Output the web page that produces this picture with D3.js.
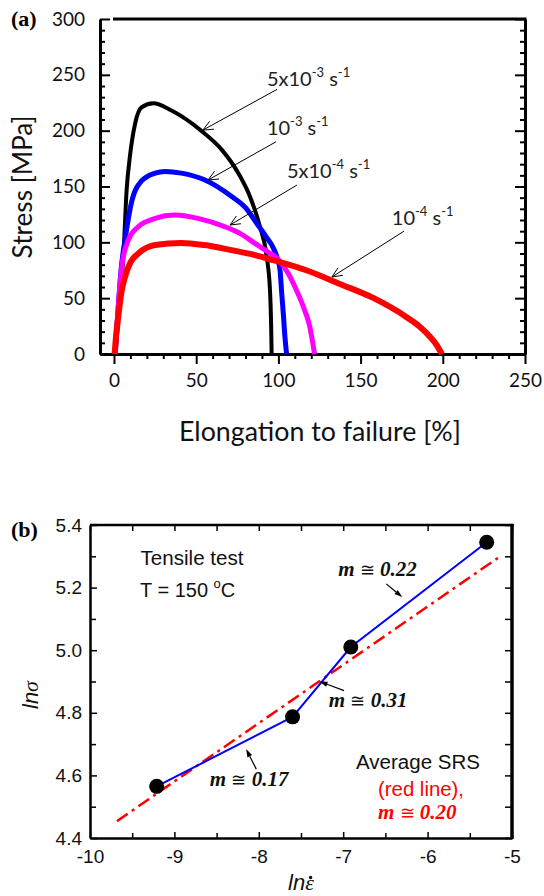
<!DOCTYPE html>
<html><head><meta charset="utf-8">
<script src="https://cdn.jsdelivr.net/npm/d3@7"></script>
<style>body{margin:0;background:#fff} svg{display:block}</style>
</head><body>
<script>
// ---------- Panel (a) data ----------
const elongTicks = [0, 50, 100, 150, 200, 250];
const stressTicks = [0, 50, 100, 150, 200, 250, 300];
const rate5e3 = [[0.6,0],[2,20],[3.5,50],[5.7,87],[7.7,147],[9.7,177],[12.8,206],[16.8,221],[23.9,224.5],[35,218],[53,200],[65.5,183],[76,161],[83,140],[88.8,114],[92.9,87],[94.9,57],[95.6,25],[95.9,0]];
const rate1e3 = [[0.8,0],[2.5,40],[4.5,78],[6.7,102],[10.7,136],[16.8,155],[25,162],[31,163.5],[41,162],[55,156],[71.6,141],[80,131],[86.8,117],[93,104],[96.9,95],[99.5,85],[101,75],[102,55],[103,36],[104,15],[105,0]];
const rate5e4 = [[0.6,0],[1.5,20],[2.6,42],[4.7,78],[8.7,102],[14.8,114],[25,121.5],[37,124.5],[51,121.5],[67.5,114],[76.6,108],[85.8,99],[93,92],[101,83],[106,72],[111,57],[115,43],[119,25],[122,0]];
const rate1e4 = [[0.4,0],[1.2,15],[2.6,33],[4.5,55],[6.7,69],[10,82],[14.8,90],[25,97.6],[41,99.5],[55,97.6],[71.6,93],[85.8,88.6],[96.9,84],[117,75],[137,63],[158,50],[178,33],[186,24.5],[192.2,15.5],[196.3,8],[198.3,3],[199.5,0]];
const seriesA = [
  {name: "5x10-3", data: rate5e3, color: "#000000", width: 4},
  {name: "10-3", data: rate1e3, color: "#0000ff", width: 5},
  {name: "5x10-4", data: rate5e4, color: "#ff00ff", width: 5},
  {name: "10-4", data: rate1e4, color: "#ff0000", width: 6}
];
const rateLabelText = [["5x10", "-3"], ["10", "-3"], ["5x10", "-4"], ["10", "-4"]];
const rateLabelPos = [[93, 240], [93, 196], [105.2, 157.6], [169, 115.5]];
const rateArrowFrom = [[99.2, 237], [98.5, 190], [111.3, 151.3], [176.4, 110]];
const rateArrowTo = [[54.1, 200.5], [57.2, 155.8], [70.6, 115.5], [132.6, 69]];

// ---------- Panel (b) data ----------
const lnRate = [-9.21, -7.60, -6.91, -5.30];
const lnStress = [4.565, 4.787, 5.010, 5.345];
const avgLineX = [-9.68, -5.166];
const avgLineY = [4.454, 5.295];
const lnRateTicks = [-10, -9, -8, -7, -6, -5];
const lnRateMinor = [-9.5, -8.5, -7.5, -6.5, -5.5];
const lnStressTicks = [4.4, 4.6, 4.8, 5.0, 5.2, 5.4];
const lnStressMinor = [4.5, 4.7, 4.9, 5.1, 5.3];
const mLabels = ["0.22", "0.31", "0.17"];
const mLabelPos = [[-7.06, 5.237], [-7.17, 4.82], [-8.58, 4.565]];
const mArrowFrom = [[-6.49, 5.212], [-6.99, 4.871], [-8.03, 4.62]];
const mArrowTo = [[-6.30, 5.170], [-7.28, 4.900], [-8.15, 4.684]];

const W = 544, H = 896;
const svg = d3.select("body").append("svg").attr("width", W).attr("height", H)
  .style("background", "#fff");

const fontA = "Lato, 'Open Sans', sans-serif";
const fontB = "'Liberation Sans', Arial, sans-serif";
const serif = "'Liberation Serif', 'Times New Roman', serif";

function fitWidth(t, target) {
  const fs = parseFloat(t.attr("font-size"));
  const w = t.node().getComputedTextLength();
  if (w > 0) t.attr("font-size", (fs * target / w).toFixed(2));
}

// ================= Panel (a) =================
const xA = d3.scaleLinear().domain([-8.5, 250]).range([100, 525]);
const yA = d3.scaleLinear().domain([0, 300]).range([354, 19]);
const gA = svg.append("g");

const minorX = d3.range(0, 251, 10).filter(v => v % 50 !== 0);
const minorY = d3.range(0, 301, 10).filter(v => v % 50 !== 0);
gA.append("g").attr("transform", "translate(0,354)")
  .call(d3.axisBottom(xA).tickValues(minorX).tickSize(5).tickFormat(""))
  .call(g => g.select(".domain").remove());
gA.append("g").attr("transform", "translate(100,0)")
  .call(d3.axisLeft(yA).tickValues(minorY).tickSize(-5).tickFormat(""))
  .call(g => g.select(".domain").remove());
gA.append("g").attr("transform", "translate(525,0)")
  .call(d3.axisRight(yA).tickValues(minorY).tickSize(-5).tickFormat(""))
  .call(g => g.select(".domain").remove());
gA.append("g").attr("transform", "translate(0,354)")
  .call(d3.axisBottom(xA).tickValues(elongTicks).tickSize(10).tickPadding(10).tickSizeOuter(0));
gA.append("g").attr("transform", "translate(100,0)")
  .call(d3.axisLeft(yA).tickValues(stressTicks).tickSize(-10).tickPadding(15).tickSizeOuter(0));
gA.append("g").attr("transform", "translate(525,0)")
  .call(d3.axisRight(yA).tickValues(stressTicks).tickSize(-10).tickFormat("").tickSizeOuter(0));
gA.selectAll(".tick line").attr("stroke", "#000").attr("stroke-width", 2);
gA.selectAll(".domain").attr("stroke", "#000").attr("stroke-width", 3);
gA.selectAll(".tick text").attr("font-family", fontA).attr("font-size", 19).attr("fill", "#111");
gA.append("line").attr("x1", 113).attr("x2", 526.5).attr("y1", 19).attr("y2", 19)
  .attr("stroke", "#000").attr("stroke-width", 3);

const lineA = d3.line().x(d => xA(d[0])).y(d => yA(d[1])).curve(d3.curveMonotoneX);
gA.append("g").selectAll("path").data(seriesA).join("path")
  .attr("d", d => lineA(d.data)).attr("fill", "none")
  .attr("stroke", d => d.color).attr("stroke-width", d => d.width)
  .attr("stroke-linejoin", "round").attr("stroke-linecap", "butt");

function openArrow(g, x1, y1, x2, y2, len, ang) {
  g.append("line").attr("x1", x1).attr("y1", y1).attr("x2", x2).attr("y2", y2)
    .attr("stroke", "#000").attr("stroke-width", 1);
  const a = Math.atan2(y1 - y2, x1 - x2);
  [ang, -ang].forEach(s => {
    g.append("line").attr("x1", x2).attr("y1", y2)
      .attr("x2", x2 + len * Math.cos(a + s)).attr("y2", y2 + len * Math.sin(a + s))
      .attr("stroke", "#000").attr("stroke-width", 1);
  });
}
rateLabelText.forEach((lab, i) => {
  const f = rateArrowFrom[i], t = rateArrowTo[i];
  openArrow(gA, xA(f[0]), yA(f[1]), xA(t[0]), yA(t[1]), 11, 0.42);
  const p = rateLabelPos[i];
  const tx = gA.append("text").attr("x", xA(p[0])).attr("y", yA(p[1]))
    .attr("font-family", fontA).attr("font-size", 20).attr("fill", "#222");
  tx.append("tspan").text(lab[0]);
  tx.append("tspan").attr("font-size", 13).attr("dy", -9).text(lab[1]);
  tx.append("tspan").attr("dy", 9).text(" s");
  tx.append("tspan").attr("font-size", 13).attr("dy", -9).text("-1");
});

const xtA = gA.append("text").attr("x", 320).attr("y", 441).attr("text-anchor", "middle")
  .attr("font-family", fontA).attr("font-size", 24).attr("fill", "#111")
  .text("Elongation to failure [%]");
fitWidth(xtA, 282);
const ytA = gA.append("text").attr("transform", "translate(32,187) rotate(-90)")
  .attr("text-anchor", "middle").attr("font-family", fontA).attr("font-size", 24).attr("fill", "#111")
  .text("Stress [MPa]");
fitWidth(ytA, 143);
gA.append("text").attr("x", 11).attr("y", 26).attr("font-family", serif)
  .attr("font-weight", "bold").attr("font-size", 22).text("(a)");

// ================= Panel (b) =================
const xB = d3.scaleLinear().domain([-10, -5]).range([90, 512]);
const yB = d3.scaleLinear().domain([4.4, 5.4]).range([838, 525]);
const gB = svg.append("g");

gB.append("g").attr("transform", "translate(0,838)")
  .call(d3.axisBottom(xB).tickValues(lnRateMinor).tickSize(-5).tickFormat(""));
gB.append("g").attr("transform", "translate(0,525)")
  .call(d3.axisTop(xB).tickValues(lnRateTicks.concat(lnRateMinor)).tickSize(-6).tickFormat(""));
gB.append("g").attr("transform", "translate(90,0)")
  .call(d3.axisLeft(yB).tickValues(lnStressMinor).tickSize(-6).tickFormat(""));
gB.append("g").attr("transform", "translate(512,0)")
  .call(d3.axisRight(yB).tickValues(lnStressTicks.concat(lnStressMinor)).tickSize(-7).tickFormat(""));
gB.selectAll(".domain").remove();
gB.append("g").attr("transform", "translate(0,838)")
  .call(d3.axisBottom(xB).tickValues(lnRateTicks).tickSize(-6).tickPadding(12).tickSizeOuter(0)
    .tickFormat(d3.format("d")));
gB.append("g").attr("transform", "translate(90,0)")
  .call(d3.axisLeft(yB).tickValues(lnStressTicks).tickSize(-7).tickPadding(8).tickSizeOuter(0)
    .tickFormat(d3.format(".1f")));
gB.selectAll(".tick line").attr("stroke", "#000").attr("stroke-width", 1.5);
gB.selectAll(".domain").attr("stroke", "#000").attr("stroke-width", 2.5);
gB.selectAll(".tick text").attr("font-family", fontB).attr("font-size", 19).attr("fill", "#111");
gB.selectAll(".tick text").text(function () { return this.textContent.replace("\u2212", "-"); });
gB.append("line").attr("x1", 90).attr("x2", 513.5).attr("y1", 525).attr("y2", 525)
  .attr("stroke", "#000").attr("stroke-width", 2.5);
gB.append("line").attr("x1", 512).attr("x2", 512).attr("y1", 524).attr("y2", 839)
  .attr("stroke", "#000").attr("stroke-width", 3.5);

gB.append("line").attr("x1", xB(avgLineX[0])).attr("y1", yB(avgLineY[0]))
  .attr("x2", xB(avgLineX[1])).attr("y2", yB(avgLineY[1]))
  .attr("stroke", "#ff0000").attr("stroke-width", 2.5).attr("stroke-dasharray", "13,5,3,5");
const ptsB = lnRate.map((v, i) => [v, lnStress[i]]);
gB.append("path").attr("d", d3.line().x(d => xB(d[0])).y(d => yB(d[1]))(ptsB))
  .attr("fill", "none").attr("stroke", "#0000ff").attr("stroke-width", 2);
gB.selectAll("circle").data(ptsB).join("circle")
  .attr("cx", d => xB(d[0])).attr("cy", d => yB(d[1])).attr("r", 7.5).attr("fill", "#000");

function filledArrow(g, x1, y1, x2, y2) {
  const a = Math.atan2(y2 - y1, x2 - x1), L = 8, hw = 2.6;
  const bx = x2 - L * Math.cos(a), by = y2 - L * Math.sin(a);
  g.append("line").attr("x1", x1).attr("y1", y1).attr("x2", bx).attr("y2", by)
    .attr("stroke", "#000").attr("stroke-width", 1.2);
  g.append("path").attr("d", `M${x2},${y2}L${bx + hw * Math.sin(a)},${by - hw * Math.cos(a)}L${bx - hw * Math.sin(a)},${by + hw * Math.cos(a)}Z`)
    .attr("fill", "#000");
}
function mText(g, x, y, val, color) {
  const t = g.append("text").attr("x", x).attr("y", y).attr("font-family", serif)
    .attr("font-weight", "bold").attr("font-style", "italic").attr("font-size", 21).attr("fill", color);
  t.append("tspan").text("m ");
  t.append("tspan").attr("font-style", "normal").attr("font-weight", "normal").attr("font-family", "'DejaVu Serif', serif").attr("font-size", 18).text("\u2245");
  t.append("tspan").text(" " + val);
  return t;
}
mLabels.forEach((m, i) => {
  filledArrow(gB, xB(mArrowFrom[i][0]), yB(mArrowFrom[i][1]), xB(mArrowTo[i][0]), yB(mArrowTo[i][1]));
  mText(gB, xB(mLabelPos[i][0]), yB(mLabelPos[i][1]), m, "#111");
});

const tt = gB.append("text").attr("x", 192).attr("y", 565).attr("text-anchor", "middle")
  .attr("font-family", fontB).attr("font-size", 20).attr("fill", "#111").text("Tensile test");
fitWidth(tt, 103);
const tT = gB.append("text").attr("x", 140).attr("y", 597)
  .attr("font-family", fontB).attr("font-size", 20).attr("fill", "#111");
tT.append("tspan").text("T = 150 ");
tT.append("tspan").attr("font-size", 13).attr("dy", -9).text("o");
tT.append("tspan").attr("dy", 9).text("C");
const av = gB.append("text").attr("x", 418).attr("y", 769).attr("text-anchor", "middle")
  .attr("font-family", fontB).attr("font-size", 20).attr("fill", "#111").text("Average SRS");
fitWidth(av, 124);
const rl = gB.append("text").attr("x", 421).attr("y", 796).attr("text-anchor", "middle")
  .attr("font-family", fontB).attr("font-size", 19).attr("fill", "#ff0000").text("(red line),");
fitWidth(rl, 86);
mText(gB, 378, 819, "0.20", "#ff0000");

const ylB = gB.append("text").attr("transform", "translate(38,695) rotate(-90)")
  .attr("text-anchor", "middle").attr("font-size", 22).attr("font-style", "italic").attr("fill", "#111");
ylB.append("tspan").attr("font-family", fontB).text("ln");
ylB.append("tspan").attr("font-family", serif).text("\u03C3");
const xlB = gB.append("text").attr("x", 301).attr("y", 890)
  .attr("text-anchor", "middle").attr("font-size", 22).attr("font-style", "italic").attr("fill", "#111");
xlB.append("tspan").attr("font-family", fontB).text("ln");
xlB.append("tspan").attr("font-family", serif).text("\u03B5");
// dot above epsilon
try {
  const ext = xlB.node().getExtentOfChar(2);
  gB.append("circle").attr("cx", ext.x + ext.width * 0.62).attr("cy", ext.y + ext.height * 0.3)
    .attr("r", 1.7).attr("fill", "#111");
} catch (e) {}
gB.append("text").attr("x", 11).attr("y", 537).attr("font-family", serif)
  .attr("font-weight", "bold").attr("font-size", 22).text("(b)");
</script>
</body></html>
